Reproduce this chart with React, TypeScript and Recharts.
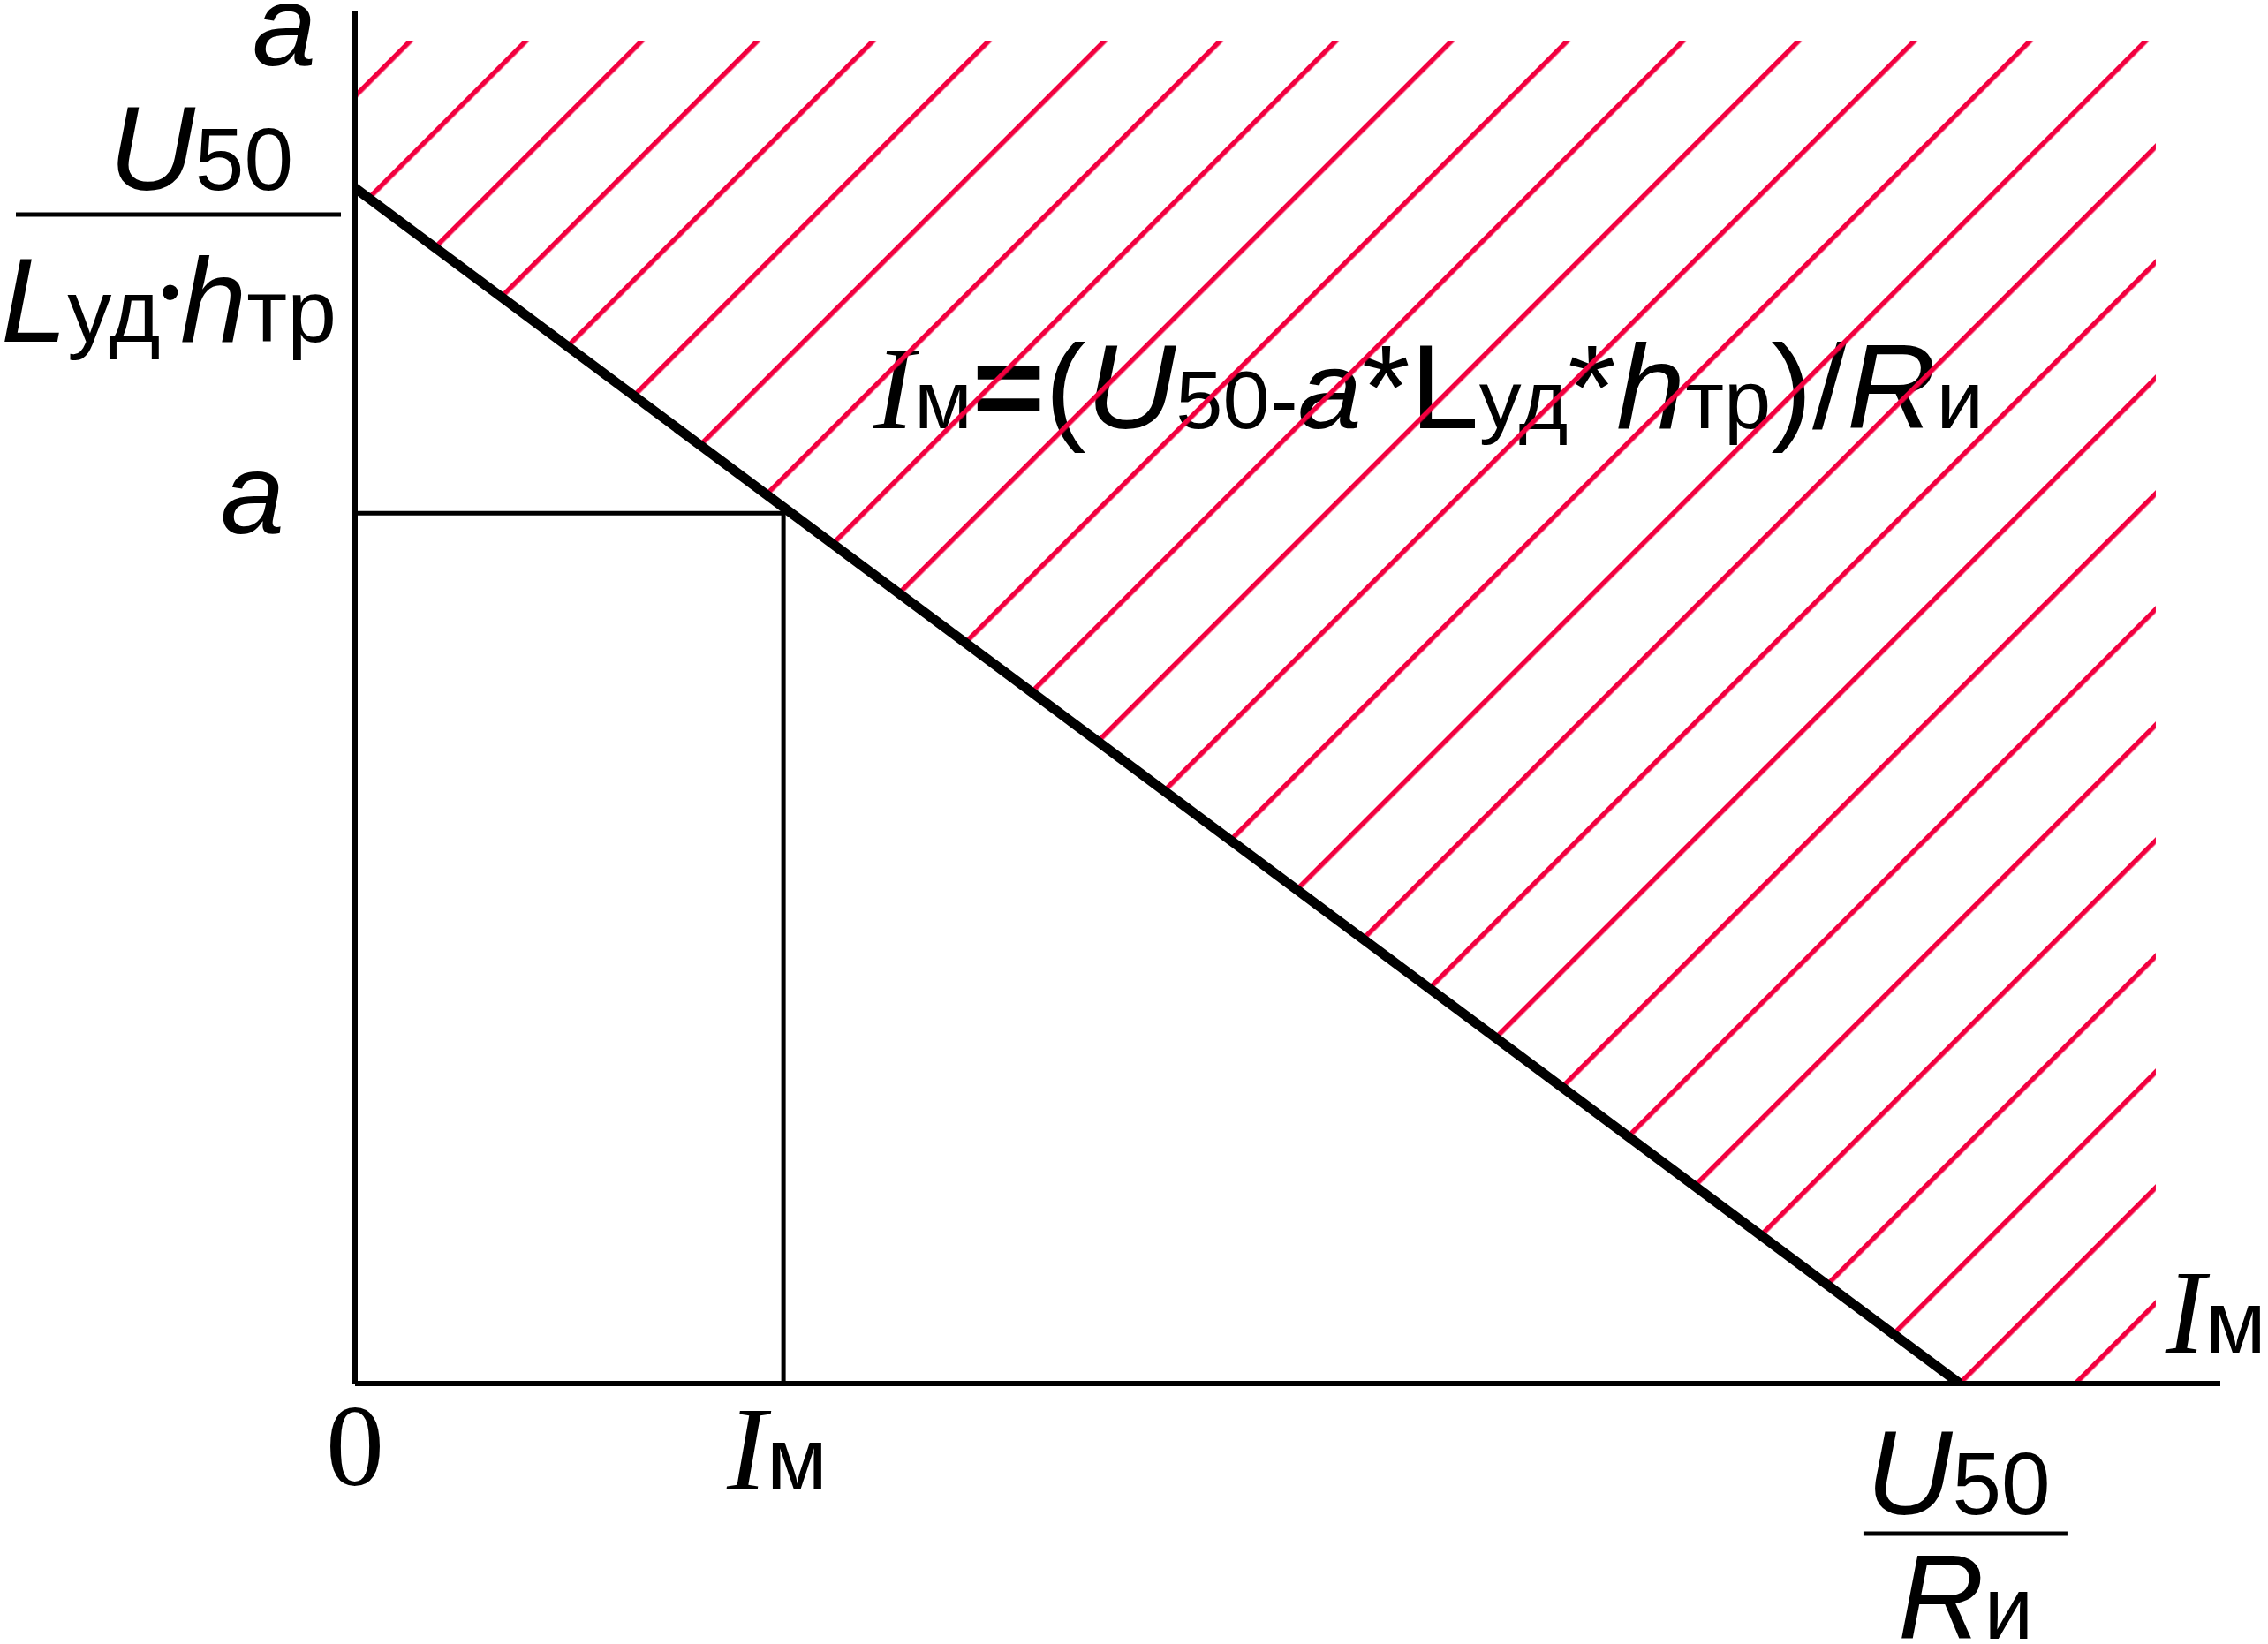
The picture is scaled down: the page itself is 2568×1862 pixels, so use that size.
import React from 'react';
import { ComposedChart, Line, Area, XAxis, YAxis } from 'recharts';

const SANS = '"Liberation Sans", Arial, sans-serif';
const SERIF = '"Liberation Serif", "Times New Roman", serif';
const HATCH = '#f2003f';

// normalised units: x = Iм / (U50/Rи), y = a / (U50/(Lуд·hтр))
const X_MAX = 1.1624;
const Y_MAX = 1.1477;
const IM = 0.267;
const A = 0.728;

// boundary Iм = (U50 - a·Lуд·hтр)/Rи
const limitIm = [0, 1];
const limitA = [1, 0];

// chosen operating point (a, Iм)
const workIm = [0, IM, IM];
const workA = [A, A, 0];

// hatched (forbidden) zone above the boundary
const hatchIm = [0, 1, 1.1222];
const hatchFrom = [1, 0, 0];
const hatchTo = [1.1226, 1.1226, 1.1226];

const xTicks = [0, IM, 1, X_MAX];
const yTicks = [A, 1, Y_MAX];

// hatch spacing / phase, px along x+y
const HATCH_STEP = 131;
const HATCH_PHASE = 511;

const limitData = limitIm.map((x, i) => ({ x, y: limitA[i] }));
const workData = workIm.map((x, i) => ({ x, y: workA[i] }));
const hatchData = hatchIm.map((x, i) => ({ x, band: [hatchFrom[i], hatchTo[i]] }));

const near = (a: number, b: number) => Math.abs(a - b) < 1e-6;

function XTick({ x, y, payload }: any) {
  const v = payload.value;
  if (near(v, 0)) {
    return (
      <text x={x} y={y + 115} textAnchor="middle" fontFamily={SERIF} fontSize={132} fill="#000">0</text>
    );
  }
  if (near(v, IM)) {
    return (
      <text x={x - 64} y={y + 120} fill="#000">
        <tspan fontFamily={SERIF} fontStyle="italic" fontSize={135}>I</tspan>
        <tspan fontFamily={SANS} fontSize={100}>м</tspan>
      </text>
    );
  }
  if (near(v, 1)) {
    return (
      <g fill="#000">
        <text x={x - 106} y={y + 148}>
          <tspan fontFamily={SANS} fontStyle="italic" fontSize={135}>U</tspan>
          <tspan fontFamily={SANS} fontSize={100}>50</tspan>
        </text>
        <line x1={x - 109} x2={x + 122} y1={y + 170} y2={y + 170} stroke="#000" strokeWidth={5} />
        <text x={x - 70} y={y + 289}>
          <tspan fontFamily={SANS} fontStyle="italic" fontSize={135}>R</tspan>
          <tspan fontFamily={SANS} fontSize={100}>и</tspan>
        </text>
      </g>
    );
  }
  return (
    <text x={x - 62} y={y - 35} fill="#000">
      <tspan fontFamily={SERIF} fontStyle="italic" fontSize={135}>I</tspan>
      <tspan fontFamily={SANS} fontSize={100}>м</tspan>
    </text>
  );
}

function YTick({ x, y, payload }: any) {
  const v = payload.value;
  if (near(v, A)) {
    return (
      <text x={x - 80} y={y + 23} textAnchor="end" fontFamily={SANS} fontStyle="italic" fontSize={130} fill="#000">a</text>
    );
  }
  if (near(v, 1)) {
    return (
      <g fill="#000">
        <text x={x - 70} y={y + 2} textAnchor="end">
          <tspan fontFamily={SANS} fontStyle="italic" fontSize={135}>U</tspan>
          <tspan fontFamily={SANS} fontSize={100}>50</tspan>
        </text>
        <line x1={x - 384} x2={x - 16} y1={y + 30} y2={y + 30} stroke="#000" strokeWidth={5} />
        <text x={x - 401} y={y + 174} textLength={380} lengthAdjust="spacingAndGlyphs">
          <tspan fontFamily={SANS} fontStyle="italic" fontSize={135}>L</tspan>
          <tspan fontFamily={SANS} fontSize={100}>уд</tspan>
          <tspan fontFamily={SANS} fontSize={64} dy={-34}>•</tspan>
          <tspan fontFamily={SANS} fontStyle="italic" fontSize={135} dy={34}>h</tspan>
          <tspan fontFamily={SANS} fontSize={100}>тр</tspan>
        </text>
      </g>
    );
  }
  return (
    <text x={x - 44} y={y + 61} textAnchor="end" fontFamily={SANS} fontStyle="italic" fontSize={130} fill="#000">a</text>
  );
}

export default function App() {
  const tileW = HATCH_STEP / Math.SQRT2;
  const lineX = (HATCH_PHASE / Math.SQRT2) % tileW;
  return (
    <div style={{ position: 'absolute', left: 0, top: 0, width: 2568, height: 1862, background: '#fff' }}>
      {/* formula sits under the hatching */}
      <svg width={2568} height={1862} style={{ position: 'absolute', left: 0, top: 0 }}>
        <text x={989} y={485} textLength={1257} lengthAdjust="spacingAndGlyphs" fill="#000">
          <tspan fontFamily={SERIF} fontStyle="italic" fontSize={133}>I</tspan>
          <tspan fontFamily={SANS} fontSize={92}>м</tspan>
          <tspan fontFamily={SANS} fontWeight="bold" fontSize={135}>=</tspan>
          <tspan fontFamily={SANS} fontSize={135}>(</tspan>
          <tspan fontFamily={SANS} fontStyle="italic" fontSize={135}>U</tspan>
          <tspan fontFamily={SANS} fontSize={92}>50-</tspan>
          <tspan fontFamily={SANS} fontStyle="italic" fontSize={125}>a</tspan>
          <tspan fontFamily={SANS} fontSize={135}>*L</tspan>
          <tspan fontFamily={SANS} fontSize={92}>уд</tspan>
          <tspan fontFamily={SANS} fontSize={135}>*</tspan>
          <tspan fontFamily={SANS} fontStyle="italic" fontSize={135}>h</tspan>
          <tspan fontFamily={SANS} fontSize={92}>тр</tspan>
          <tspan fontFamily={SANS} fontSize={135}>)/</tspan>
          <tspan fontFamily={SANS} fontStyle="italic" fontSize={135}>R</tspan>
          <tspan fontFamily={SANS} fontSize={92}>и</tspan>
        </text>
      </svg>
      <div style={{ position: 'absolute', left: 0, top: 0 }}>
        <ComposedChart width={2568} height={1862} margin={{ top: 13, right: 54, bottom: 265, left: 342 }}>
          <defs>
            <pattern id="hatch" patternUnits="userSpaceOnUse" width={tileW} height={100} patternTransform="rotate(45)">
              <line x1={lineX} x2={lineX} y1={-10} y2={110} stroke={HATCH} strokeWidth={5.5} />
            </pattern>
          </defs>
          <XAxis
            dataKey="x"
            type="number"
            domain={[0, X_MAX]}
            allowDataOverflow
            ticks={xTicks}
            interval={0}
            tick={<XTick />}
            tickLine={false}
            tickSize={0}
            tickMargin={0}
            axisLine={{ stroke: '#000', strokeWidth: 6 }}
            height={30}
          />
          <YAxis
            type="number"
            domain={[0, Y_MAX]}
            allowDataOverflow
            ticks={yTicks}
            interval={0}
            tick={<YTick />}
            tickLine={false}
            tickSize={0}
            tickMargin={0}
            axisLine={{ stroke: '#000', strokeWidth: 6 }}
            width={60}
          />
          <Area
            data={hatchData}
            dataKey="band"
            type="linear"
            stroke="none"
            fill="url(#hatch)"
            fillOpacity={1}
            isAnimationActive={false}
            activeDot={false}
          />
          <Line
            data={workData}
            dataKey="y"
            type="linear"
            stroke="#000"
            strokeWidth={5}
            dot={false}
            activeDot={false}
            isAnimationActive={false}
          />
          <Line
            data={limitData}
            dataKey="y"
            type="linear"
            stroke="#000"
            strokeWidth={11}
            dot={false}
            activeDot={false}
            isAnimationActive={false}
          />
        </ComposedChart>
      </div>
    </div>
  );
}
